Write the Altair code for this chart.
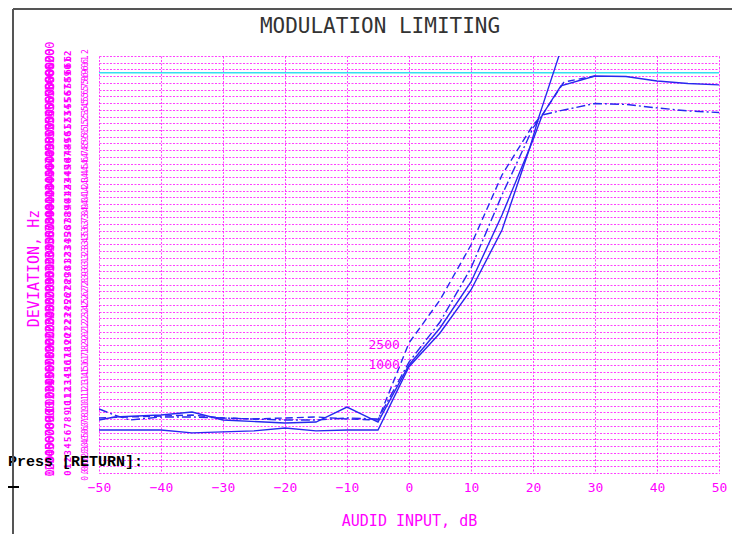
import altair as alt
import pandas as pd

# ---- data (x: audio input in dB, y: deviation in Hz) ----
a_x = [-50, -45, -40, -35, -30, -25, -20, -15, -10, -5, 0, 5, 10, 15, 19.5, 21, 24, 25]
a_y = [640, 640, 640, 596, 611, 626, 670, 626, 640, 640, 1580, 2082, 2721, 3613, 4840, 5310, 6150, 6450]

b_x = [-50, -47.5, -40, -35, -30, -20, -15, -10, -5, 0, 5, 10, 15, 20, 21.5, 24.5, 30, 35, 40, 45, 50]
b_y = [788, 833, 862, 907, 788, 744, 758, 981, 758, 1606, 2156, 2840, 3836, 4952, 5323, 5755, 5903, 5896, 5829, 5792, 5770]

c_x = [-50, -47.5, -45, -40, -35, -30, -20, -15, -10, -5, 0, 5, 10, 15, 20, 21.5, 25, 30, 35, 40, 45, 50]
c_y = [952, 862, 788, 833, 833, 818, 788, 788, 818, 803, 1650, 2245, 3048, 4134, 5130, 5323, 5398, 5494, 5480, 5428, 5383, 5361]

d_x = [-50, -45, -40, -35, -30, -25, -20, -15, -10, -5, 0, 5, 10, 15, 17.5, 20, 21.5, 25, 30]
d_y = [818, 833, 848, 862, 818, 803, 818, 833, 803, 788, 1933, 2573, 3390, 4431, 4803, 5175, 5323, 5814, 5903]

cyan_level = [5950]

curve_labels = ["2500", "1000"]
curve_label_x = [-4, -4]
curve_label_y = [1903, 1606]

x_ticks = [-50, -40, -30, -20, -10, 0, 10, 20, 30, 40, 50]
y_ticks = list(range(0, 6201, 100))
y_tick_khz = [f"{v / 1000:.1f}" for v in y_ticks]
y_tick_hz = [str(v) for v in y_ticks]
y_tick_idx = [str(v // 100) for v in y_ticks]

chart_title = ["MODULATION LIMITING"]
prompt_text = ["Press [RETURN]:"]

# ---- styling ----
MAG = "#ff00ff"
BLUE = "#2828ee"
MONO = "DejaVu Sans Mono"

xscale = alt.Scale(domain=[-50, 50], nice=False, zero=False)
yscale = alt.Scale(domain=[0, 6200], nice=False, zero=False)

xaxis = alt.Axis(
    values=x_ticks, grid=True, gridColor=MAG, gridDash=[2, 1.5], gridOpacity=0.75,
    ticks=False, domain=False, labelColor=MAG, labelFont=MONO, labelFontSize=13,
    labelPadding=8, labelFlush=False,
    title="AUDID INPUT, dB", titleColor=MAG, titleFont=MONO, titleFontSize=15,
    titleFontWeight="normal", titleX=310, titleY=47, titleBaseline="middle",
    titleAlign="center",
)
yaxis = alt.Axis(
    values=y_ticks, grid=True, gridColor=MAG, gridDash=[2, 1.5], gridOpacity=0.75,
    ticks=False, domain=False, labelColor=MAG, labelFont=MONO, labelFontSize=8,
    labelAngle=270, labelAlign="center", labelBaseline="bottom",
    labelOverlap=False, labelFlush=False, labelPadding=10,
    labelExpr="format(datum.value / 1000, '.1f')",
    title="DEVIATION, Hz", titleColor=MAG, titleFont=MONO, titleFontSize=15,
    titleFontWeight="normal", titleAngle=270, titleX=-66, titleY=212,
    titleAlign="center", titleBaseline="middle",
)

X = alt.X("x:Q", scale=xscale, axis=xaxis)
Y = alt.Y("y:Q", scale=yscale, axis=yaxis)


def curve(xs, ys, dash=None):
    kw = dict(color=BLUE, strokeWidth=1.4, clip=True)
    if dash:
        kw["strokeDash"] = dash
    return alt.Chart(pd.DataFrame({"x": xs, "y": ys})).mark_line(**kw).encode(x=X, y=Y)


cyan = alt.Chart(pd.DataFrame({"y": cyan_level})).mark_rule(
    color="#33e0f0", strokeWidth=1.5).encode(y=Y)

line_a = curve(a_x, a_y)
line_b = curve(b_x, b_y)
line_c = curve(c_x, c_y, [9, 3, 2, 3])
line_d = curve(d_x, d_y, [7, 4])

labels = alt.Chart(pd.DataFrame({"x": curve_label_x, "y": curve_label_y, "t": curve_labels})).mark_text(
    color=MAG, font=MONO, fontSize=13, align="center", baseline="middle").encode(x=X, y=Y, text="t:N")

ticks_df = pd.DataFrame({"y": y_ticks, "hz": y_tick_hz, "idx": y_tick_idx, "khz": y_tick_khz})
deco_wide = alt.Chart(ticks_df).mark_text(
    color=MAG, font=MONO, fontSize=12, angle=270, align="center", baseline="bottom").encode(
    x=alt.value(-42), y=Y, text="hz:N")
deco_mid = alt.Chart(ticks_df).mark_text(
    color=MAG, font=MONO, fontSize=9, fontWeight="bold", angle=270, align="center", baseline="bottom").encode(
    x=alt.value(-26), y=Y, text="idx:N")

title_mark = alt.Chart(pd.DataFrame({"t": chart_title})).mark_text(
    color="#333333", font=MONO, fontSize=21, align="center", baseline="middle").encode(
    x=alt.value(281), y=alt.value(-29), text="t:N")

prompt = alt.Chart(pd.DataFrame({"t": prompt_text})).mark_text(
    color="black", font="Liberation Mono", fontWeight="bold", fontSize=15,
    align="left", baseline="alphabetic").encode(x=alt.value(-91), y=alt.value(410), text="t:N")

one = pd.DataFrame({"k": [0]})
frame_top = alt.Chart(one).mark_rule(color="#555555", strokeWidth=2).encode(
    x=alt.value(-86), x2=alt.value(641), y=alt.value(-47))
frame_left = alt.Chart(one).mark_rule(color="#555555", strokeWidth=2).encode(
    x=alt.value(-86), y=alt.value(-47), y2=alt.value(478))
frame_tick = alt.Chart(one).mark_rule(color="black", strokeWidth=2).encode(
    x=alt.value(-92), x2=alt.value(-80), y=alt.value(431))

chart = alt.layer(
    cyan, line_a, line_b, line_c, line_d, labels, deco_wide, deco_mid,
    title_mark, prompt, frame_top, frame_left, frame_tick,
).properties(
    width=620, height=417,
    padding={"left": 91, "top": 48, "right": 13, "bottom": 61},
    autosize=alt.AutoSizeParams(type="none"),
    background="white",
).configure_view(stroke=None)

chart.save("out.html", embed_options={"renderer": "svg", "actions": False})
